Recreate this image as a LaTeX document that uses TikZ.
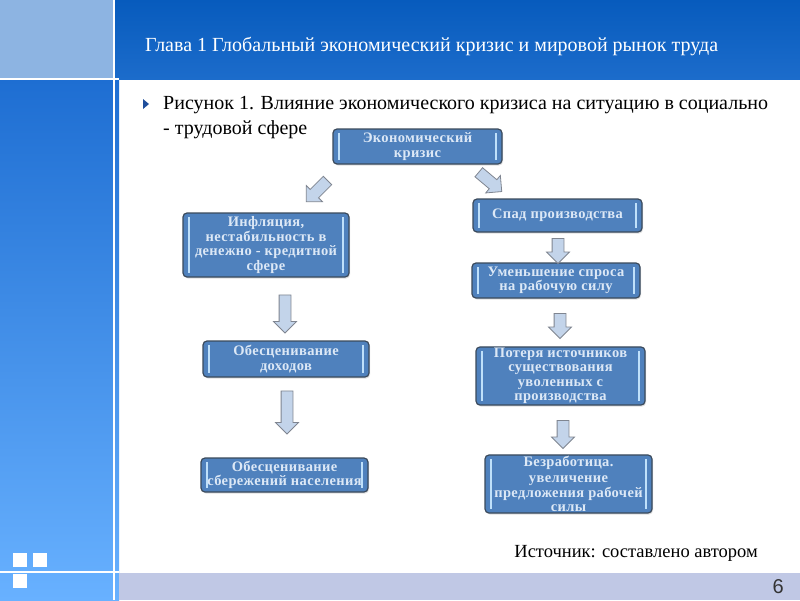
\documentclass[tikz,border=0pt]{standalone}
\usepackage{fontspec}
\setmainfont{Liberation Serif}
\newfontfamily\sansf{Liberation Sans}
\newfontfamily\boxfont[LetterSpace=2.5]{Liberation Serif}
\usetikzlibrary{shapes.arrows,shadows}
\definecolor{hdrtop}{HTML}{075BBD}
\definecolor{hdrbot}{HTML}{1C6CCB}
\definecolor{panellight}{HTML}{8DB4E2}
\definecolor{coltop}{HTML}{1E6ED2}
\definecolor{colbot}{HTML}{68B1FF}
\definecolor{footbar}{HTML}{C0C8E5}
\definecolor{boxfill}{HTML}{4F81BD}
\definecolor{boxborder}{HTML}{3B4A5C}
\definecolor{boxtext}{HTML}{DCE8F6}
\definecolor{barcol}{HTML}{BFE0FA}
\definecolor{arrfill}{HTML}{C3D4EA}
\definecolor{arrdraw}{HTML}{7F8590}
\definecolor{bullet}{HTML}{1F4E9C}
\tikzset{
  flowbox/.style={draw=boxborder, line width=1.2pt, fill=boxfill, rounded corners=4pt,
    text=boxtext, font=\boxfont\bfseries\fontsize{14.5}{14.5}\selectfont, align=center, inner sep=1pt,
    drop shadow={opacity=0.25, shadow xshift=1pt, shadow yshift=-1.5pt},
    path picture={
      \draw[barcol, line width=1.6pt]
        ([xshift=6pt,yshift=-4pt]path picture bounding box.north west) --
        ([xshift=6pt,yshift=4pt]path picture bounding box.south west);
      \draw[barcol, line width=1.6pt]
        ([xshift=-6pt,yshift=-4pt]path picture bounding box.north east) --
        ([xshift=-6pt,yshift=4pt]path picture bounding box.south east);
    }},
  blockarrow/.style={single arrow, draw=arrdraw, fill=arrfill, line width=0.8pt,
    inner sep=5.5pt, single arrow head extend=5.5pt, single arrow head indent=0pt,
    minimum height=#1, anchor=center},
  slidetext/.style={font=\fontsize{20}{25}\selectfont, text=black, inner sep=0pt}
}
\begin{document}
\begin{tikzpicture}[x=1pt,y=-1pt]
\useasboundingbox (0,0) rectangle (800,600);
% background
\fill[white] (0,0) rectangle (800,600);
\shade[top color=coltop, bottom color=colbot] (0,80) rectangle (119,600);
\fill[panellight] (0,0) rectangle (113,79);
\shade[top color=hdrtop, bottom color=hdrbot] (115,0) rectangle (800,79);
\fill[white] (113,0) rectangle (115,600);
\fill[white] (0,78) rectangle (119,80);
\fill[footbar] (119,573) rectangle (800,600);
\fill[white] (0,571) rectangle (119,573);
% small squares
\fill[white] (13,553) rectangle (27,567);
\fill[white] (33,553) rectangle (47,567);
\fill[white] (13,574) rectangle (27,588);
% header title
\node[slidetext, text=white, anchor=west] (title) at (145,46) {Глава 1 Глобальный экономический кризис и мировой рынок труда};
% bullet and caption
\fill[bullet] (143,99) -- (149,104) -- (143,109) -- cycle;
\node[slidetext, anchor=north west, align=left] (caption) at (163,96)
  {Рисунок 1. Влияние экономического кризиса на ситуацию в социально\\- трудовой сфере};
% boxes
\node[flowbox, minimum width=169pt, minimum height=35pt] (crisis) at (417.5,146.5) {Экономический\\кризис};
\node[flowbox, minimum width=166pt, minimum height=64pt] (infl) at (266,245) {Инфляция,\\нестабильность в\\денежно - кредитной\\сфере};
\node[flowbox, minimum width=166pt, minimum height=36pt] (income) at (286,359) {Обесценивание\\доходов};
\node[flowbox, minimum width=167pt, minimum height=34pt] (savings) at (284.5,475) {Обесценивание\\сбережений населения};
\node[flowbox, minimum width=169pt, minimum height=33pt] (decline) at (557.5,215.5) {Спад производства};
\node[flowbox, minimum width=168pt, minimum height=35pt] (demand) at (556,280.5) {Уменьшение спроса\\на рабочую силу};
\node[flowbox, minimum width=169pt, minimum height=58pt] (loss) at (560.5,376) {Потеря источников\\существования\\уволенных с\\производства};
\node[flowbox, minimum width=167pt, minimum height=56pt] (unemp) at (568.5,484) {Безработица.\\[2pt]увеличение\\предложения рабочей\\силы};
% block arrows
\node[blockarrow=30pt, rotate=225] (a1) at (319,189) {};
\node[blockarrow=30pt, rotate=-40] (a2) at (488,180) {};
\node[blockarrow=38pt, rotate=-90] (a3) at (285,311) {};
\node[blockarrow=43pt, rotate=-90] (a4) at (287,409.5) {};
\node[blockarrow=25pt, rotate=-90] (a5) at (558,248) {};
\node[blockarrow=25pt, rotate=-90] (a6) at (560,323) {};
\node[blockarrow=28pt, rotate=-90] (a7) at (563,431.5) {};
% source
\node[font=\fontsize{18.5}{22}\selectfont, anchor=east, inner sep=0pt] (source) at (758,553) {Источник: составлено автором};
% page number
\node[font=\sansf\fontsize{20}{24}\selectfont, text=black!80, anchor=east, inner sep=0pt] (page) at (784,587) {6};
\end{tikzpicture}
\end{document}
